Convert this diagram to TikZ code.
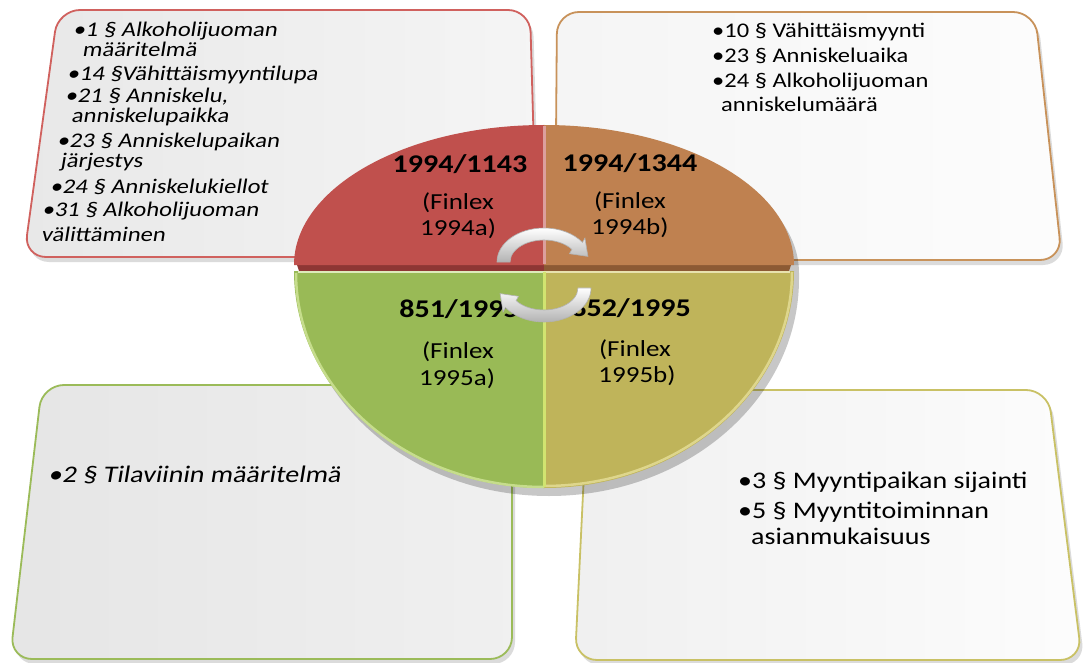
\documentclass[tikz,border=0pt]{standalone}
\usepackage{fontspec}
\setmainfont{Carlito}
\newfontfamily\slfont{Carlito}[FakeSlant=0.14]
\usetikzlibrary{shadows,arrows.meta}
\definecolor{qred}{HTML}{C0504D}
\definecolor{qorange}{HTML}{BF8150}
\definecolor{qgreen}{HTML}{99BA56}
\definecolor{qyellow}{HTML}{BFB45A}
\definecolor{qreddark}{HTML}{8E3634}
\definecolor{qorangedark}{HTML}{8C5A34}
\definecolor{rimgreen}{HTML}{C6DD8C}
\definecolor{rimyellow}{HTML}{DED68C}
\definecolor{bred}{HTML}{D0615E}
\definecolor{borange}{HTML}{C8925A}
\definecolor{bgreen}{HTML}{9BBB59}
\definecolor{byellow}{HTML}{C9C165}
\newcommand{\vs}[1]{\scalebox{1}[0.85]{#1}}
\tikzset{
  box/.style={rounded corners=22pt, line width=1.8pt,
    drop shadow={opacity=0.28, shadow xshift=3pt, shadow yshift=-5pt}},
  ltxt/.style={anchor=base west, inner sep=0pt, font=\slfont\fontsize{24.5}{25}\selectfont},
  rtxt/.style={anchor=base west, inner sep=0pt, font=\fontsize{24.5}{25}\selectfont},
  lbtxt/.style={anchor=base west, inner sep=0pt, font=\slfont\fontsize{28}{28}\selectfont},
  rbtxt/.style={anchor=base west, inner sep=0pt, font=\fontsize{28}{28}\selectfont},
  numtxt/.style={anchor=base, inner sep=0pt, font=\bfseries\fontsize{30}{30}\selectfont},
  fintxt/.style={anchor=base, inner sep=0pt, font=\fontsize{27}{27}\selectfont},
  cyc/.pic={
    \shadedraw[top color=white, bottom color=black!30, draw=black!30, line width=0.6pt]
      (-47,0) arc[start angle=180, end angle=35, x radius=47, y radius=34]
      -- (40.9,23.9) -- (43.9,5.6) -- (25.5,8.3) -- (27.9,12.6)
      arc[start angle=35, end angle=180, x radius=34, y radius=22] -- cycle;
  }
}
\begin{document}
\begin{tikzpicture}[x=1pt,y=1pt]
\useasboundingbox (0,0) rectangle (1084,-663);
\fill[white] (0,0) rectangle (1084,-663);

% corner boxes
\draw[box, draw=bred, left color=black!9, right color=black!4]
  (58,-10) -- (530,-10) -- (537,-257) -- (24,-257) -- cycle;
\draw[box, draw=borange, left color=black!4, right color=black!1]
  (557,-12) -- (1035,-12) -- (1062,-260) -- (555,-260) -- cycle;
\draw[box, draw=bgreen, left color=black!10, right color=black!6]
  (42,-385) -- (512,-385) -- (512,-659) -- (10,-659) -- cycle;
\draw[box, draw=byellow, left color=black!6, right color=black!1]
  (588,-390) -- (1048,-390) -- (1082,-660) -- (575,-660) -- cycle;

% circle shadow
\fill[black, opacity=0.22] ([xshift=5pt,yshift=-7pt]294,-266)
  arc[start angle=180, end angle=0, x radius=250, y radius=140]
  -- ([xshift=5pt,yshift=-7pt]794,-272)
  arc[start angle=0, end angle=-180, x radius=250, y radius=217] -- cycle;

% thickness band under the top half
\fill[qreddark] (296,-262) -- (544,-262) -- (544,-271) -- (299,-271) -- cycle;
\fill[qorangedark] (544,-262) -- (792,-262) -- (789,-271) -- (544,-271) -- cycle;

% quadrants
\fill[qred] (544,-265) -- (294,-265) arc[start angle=180, end angle=90, x radius=250, y radius=140] -- cycle;
\fill[qorange] (544,-265) -- (544,-125) arc[start angle=90, end angle=0, x radius=250, y radius=140] -- cycle;
\fill[qgreen] (544,-271) -- (294,-271) arc[start angle=180, end angle=270, x radius=250, y radius=217] -- cycle;
\fill[qyellow] (544,-271) -- (544,-488) arc[start angle=270, end angle=360, x radius=250, y radius=217] -- cycle;

% rims and dividers
\draw[rimgreen, line width=2.5pt] (296,-273) arc[start angle=180, end angle=270, x radius=248, y radius=214];
\draw[rimyellow, line width=2.5pt] (544,-486) arc[start angle=270, end angle=360, x radius=248, y radius=214];
\draw[rimgreen!60!white, line width=1.5pt] (298,-272) -- (544,-272);
\draw[rimyellow!70!white, line width=1.5pt] (544,-272) -- (790,-272);
\draw[line width=3pt, color=qred!55!white] (544,-126) -- (544,-264);
\draw[line width=3pt, color=rimgreen!80!yellow] (544,-272) -- (544,-487);

% circle texts
\node[numtxt] (n1) at (460,-173) {\vs{1994/1143}};
\node[fintxt] (f1a) at (458,-210) {\vs{(Finlex}};
\node[fintxt] (f1b) at (458,-236) {\vs{1994a)}};
\node[numtxt] (n2) at (630,-172) {\vs{1994/1344}};
\node[fintxt] (f2a) at (630,-209) {\vs{(Finlex}};
\node[fintxt] (f2b) at (630,-234) {\vs{1994b)}};
\node[numtxt] (n3) at (459,-317) {\vs{851/1995}};
\node[fintxt] (f3a) at (458,-358) {\vs{(Finlex}};
\node[fintxt] (f3b) at (457,-385) {\vs{1995a)}};
\node[numtxt] (n4) at (631,-316) {\vs{852/1995}};
\node[fintxt] (f4a) at (635,-356) {\vs{(Finlex}};
\node[fintxt] (f4b) at (637,-382) {\vs{1995b)}};

% cycle arrows
\pic (arrowtop) at (544,-262) {cyc};
\pic[rotate=180] (arrowbot) at (544,-288) {cyc};

% top-left box text
\node[ltxt] (tl1) at (73,-37) {\vs{•1 § Alkoholijuoman}};
\node[ltxt] (tl2) at (82,-57) {\vs{määritelmä}};
\node[ltxt] (tl3) at (67,-81) {\vs{•14 §Vähittäismyyntilupa}};
\node[ltxt] (tl4) at (65,-103) {\vs{•21 § Anniskelu,}};
\node[ltxt] (tl5) at (71,-123) {\vs{anniskelupaikka}};
\node[ltxt] (tl6) at (57,-148) {\vs{•23 § Anniskelupaikan}};
\node[ltxt] (tl7) at (60,-168) {\vs{järjestys}};
\node[ltxt] (tl8) at (50,-194) {\vs{•24 § Anniskelukiellot}};
\node[ltxt] (tl9) at (42,-217) {\vs{•31 § Alkoholijuoman}};
\node[ltxt] (tl10) at (41,-241) {\vs{välittäminen}};

% top-right box text
\node[rtxt] (tr1) at (712,-38) {\vs{•10 § Vähittäismyynti}};
\node[rtxt] (tr2) at (712,-63) {\vs{•23 § Anniskeluaika}};
\node[rtxt] (tr3) at (712,-88) {\vs{•24 § Alkoholijuoman}};
\node[rtxt] (tr4) at (721,-112) {\vs{anniskelumäärä}};

% bottom-left box text
\node[lbtxt] (bl1) at (48,-482) {\vs{•2 § Tilaviinin määritelmä}};

% bottom-right box text
\node[rbtxt] (br1) at (738,-488) {\vs{•3 § Myyntipaikan sijainti}};
\node[rbtxt] (br2) at (738,-518) {\vs{•5 § Myyntitoiminnan}};
\node[rbtxt] (br3) at (751,-544) {\vs{asianmukaisuus}};
\end{tikzpicture}
\end{document}
